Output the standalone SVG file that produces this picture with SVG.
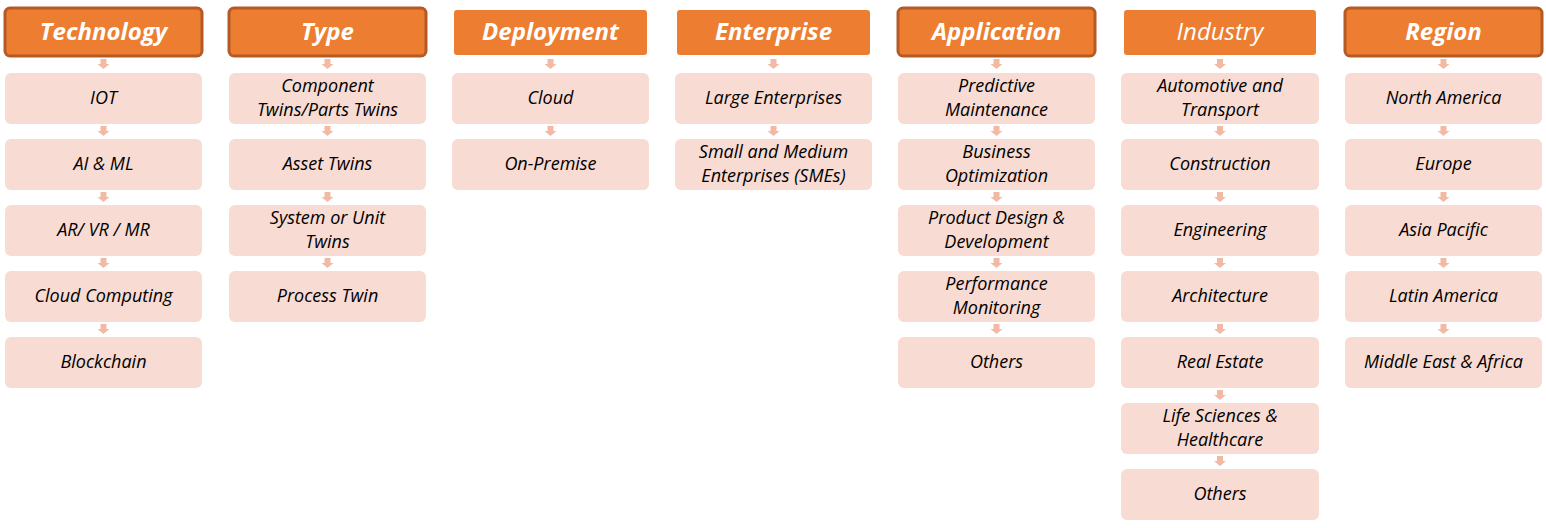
<svg xmlns="http://www.w3.org/2000/svg" width="1546" height="528" viewBox="0 0 1546 528">
<defs>
<style>
.h{fill:#ed7d31;}
.hb{fill:#ed7d31;stroke:#b55a25;stroke-width:3;}
.ht{font-family:"Open Sans",sans-serif;font-style:italic;font-weight:bold;font-size:24px;fill:#fff;text-anchor:middle;}
.hn{font-weight:normal;}
.c{fill:#f8dbd2;}
.t{font-family:"Open Sans",sans-serif;font-style:italic;font-size:18px;fill:#000;text-anchor:middle;}
.a{fill:#f4b9a3;}
</style>
<path id="ar" class="a" d="M-3,0 H3 V5 H6 L0,10 L-6,5 H-3 Z"/>
</defs>
<rect width="1546" height="528" fill="#fff"/>
<g id="connectors">
<use href="#ar" x="103.5" y="59"/><use href="#ar" x="103.5" y="126"/><use href="#ar" x="103.5" y="192"/><use href="#ar" x="103.5" y="258"/><use href="#ar" x="103.5" y="324"/>
<use href="#ar" x="327.5" y="59"/><use href="#ar" x="327.5" y="126"/><use href="#ar" x="327.5" y="192"/><use href="#ar" x="327.5" y="258"/>
<use href="#ar" x="550.5" y="59"/><use href="#ar" x="550.5" y="126"/>
<use href="#ar" x="773.5" y="59"/><use href="#ar" x="773.5" y="126"/>
<use href="#ar" x="996.5" y="59"/><use href="#ar" x="996.5" y="126"/><use href="#ar" x="996.5" y="192"/><use href="#ar" x="996.5" y="258"/><use href="#ar" x="996.5" y="324"/>
<use href="#ar" x="1220" y="59"/><use href="#ar" x="1220" y="126"/><use href="#ar" x="1220" y="192"/><use href="#ar" x="1220" y="258"/><use href="#ar" x="1220" y="324"/><use href="#ar" x="1220" y="390"/><use href="#ar" x="1220" y="456"/>
<use href="#ar" x="1443.5" y="59"/><use href="#ar" x="1443.5" y="126"/><use href="#ar" x="1443.5" y="192"/><use href="#ar" x="1443.5" y="258"/><use href="#ar" x="1443.5" y="324"/>
</g>
<g id="h-technology"><rect class="hb" x="5" y="8" width="197" height="48" rx="5"/><text class="ht" x="103.5" y="40">Technology</text></g>
<g id="h-type"><rect class="hb" x="229" y="8" width="197" height="48" rx="5"/><text class="ht" x="327.5" y="40">Type</text></g>
<g id="h-deployment"><rect class="h" x="454" y="10" width="193" height="45" rx="3"/><text class="ht" x="550.5" y="40">Deployment</text></g>
<g id="h-enterprise"><rect class="h" x="677" y="10" width="193" height="45" rx="3"/><text class="ht" x="773.5" y="40">Enterprise</text></g>
<g id="h-application"><rect class="hb" x="898" y="8" width="197" height="48" rx="5"/><text class="ht" x="996.5" y="40">Application</text></g>
<g id="h-industry"><rect class="h" x="1124" y="10" width="192" height="45" rx="3"/><text class="ht hn" x="1220" y="40">Industry</text></g>
<g id="h-region"><rect class="hb" x="1345" y="8" width="197" height="48" rx="5"/><text class="ht" x="1443.5" y="40">Region</text></g>

<g id="n-iot"><rect class="c" x="5" y="73" width="197" height="51" rx="6"/><text class="t" x="103.5" y="104">IOT</text></g>
<g id="n-aiml"><rect class="c" x="5" y="139" width="197" height="51" rx="6"/><text class="t" x="103.5" y="170">AI &amp; ML</text></g>
<g id="n-arvr"><rect class="c" x="5" y="205" width="197" height="51" rx="6"/><text class="t" x="103.5" y="236">AR/ VR / MR</text></g>
<g id="n-cloudc"><rect class="c" x="5" y="271" width="197" height="51" rx="6"/><text class="t" x="103.5" y="302">Cloud Computing</text></g>
<g id="n-block"><rect class="c" x="5" y="337" width="197" height="51" rx="6"/><text class="t" x="103.5" y="368">Blockchain</text></g>

<g id="n-comp"><rect class="c" x="229" y="73" width="197" height="51" rx="6"/><text class="t" x="327.5" y="92">Component</text><text class="t" x="327.5" y="116">Twins/Parts Twins</text></g>
<g id="n-asset"><rect class="c" x="229" y="139" width="197" height="51" rx="6"/><text class="t" x="327.5" y="170">Asset Twins</text></g>
<g id="n-system"><rect class="c" x="229" y="205" width="197" height="51" rx="6"/><text class="t" x="327.5" y="224">System or Unit</text><text class="t" x="327.5" y="248">Twins</text></g>
<g id="n-process"><rect class="c" x="229" y="271" width="197" height="51" rx="6"/><text class="t" x="327.5" y="302">Process Twin</text></g>

<g id="n-cloud"><rect class="c" x="452" y="73" width="197" height="51" rx="6"/><text class="t" x="550.5" y="104">Cloud</text></g>
<g id="n-onprem"><rect class="c" x="452" y="139" width="197" height="51" rx="6"/><text class="t" x="550.5" y="170">On-Premise</text></g>

<g id="n-large"><rect class="c" x="675" y="73" width="197" height="51" rx="6"/><text class="t" x="773.5" y="104">Large Enterprises</text></g>
<g id="n-sme"><rect class="c" x="675" y="139" width="197" height="51" rx="6"/><text class="t" x="773.5" y="158">Small and Medium</text><text class="t" x="773.5" y="182">Enterprises (SMEs)</text></g>

<g id="n-predict"><rect class="c" x="898" y="73" width="197" height="51" rx="6"/><text class="t" x="996.5" y="92">Predictive</text><text class="t" x="996.5" y="116">Maintenance</text></g>
<g id="n-busopt"><rect class="c" x="898" y="139" width="197" height="51" rx="6"/><text class="t" x="996.5" y="158">Business</text><text class="t" x="996.5" y="182">Optimization</text></g>
<g id="n-product"><rect class="c" x="898" y="205" width="197" height="51" rx="6"/><text class="t" x="996.5" y="224">Product Design &amp;</text><text class="t" x="996.5" y="248">Development</text></g>
<g id="n-perf"><rect class="c" x="898" y="271" width="197" height="51" rx="6"/><text class="t" x="996.5" y="290">Performance</text><text class="t" x="996.5" y="314">Monitoring</text></g>
<g id="n-others-app"><rect class="c" x="898" y="337" width="197" height="51" rx="6"/><text class="t" x="996.5" y="368">Others</text></g>

<g id="n-auto"><rect class="c" x="1121" y="73" width="198" height="51" rx="6"/><text class="t" x="1220" y="92">Automotive and</text><text class="t" x="1220" y="116">Transport</text></g>
<g id="n-constr"><rect class="c" x="1121" y="139" width="198" height="51" rx="6"/><text class="t" x="1220" y="170">Construction</text></g>
<g id="n-eng"><rect class="c" x="1121" y="205" width="198" height="51" rx="6"/><text class="t" x="1220" y="236">Engineering</text></g>
<g id="n-arch"><rect class="c" x="1121" y="271" width="198" height="51" rx="6"/><text class="t" x="1220" y="302">Architecture</text></g>
<g id="n-realestate"><rect class="c" x="1121" y="337" width="198" height="51" rx="6"/><text class="t" x="1220" y="368">Real Estate</text></g>
<g id="n-life"><rect class="c" x="1121" y="403" width="198" height="51" rx="6"/><text class="t" x="1220" y="422">Life Sciences &amp;</text><text class="t" x="1220" y="446">Healthcare</text></g>
<g id="n-others-ind"><rect class="c" x="1121" y="469" width="198" height="51" rx="6"/><text class="t" x="1220" y="500">Others</text></g>

<g id="n-na"><rect class="c" x="1345" y="73" width="197" height="51" rx="6"/><text class="t" x="1443.5" y="104">North America</text></g>
<g id="n-eu"><rect class="c" x="1345" y="139" width="197" height="51" rx="6"/><text class="t" x="1443.5" y="170">Europe</text></g>
<g id="n-apac"><rect class="c" x="1345" y="205" width="197" height="51" rx="6"/><text class="t" x="1443.5" y="236">Asia Pacific</text></g>
<g id="n-latam"><rect class="c" x="1345" y="271" width="197" height="51" rx="6"/><text class="t" x="1443.5" y="302">Latin America</text></g>
<g id="n-mea"><rect class="c" x="1345" y="337" width="197" height="51" rx="6"/><text class="t" x="1443.5" y="368">Middle East &amp; Africa</text></g>
</svg>
